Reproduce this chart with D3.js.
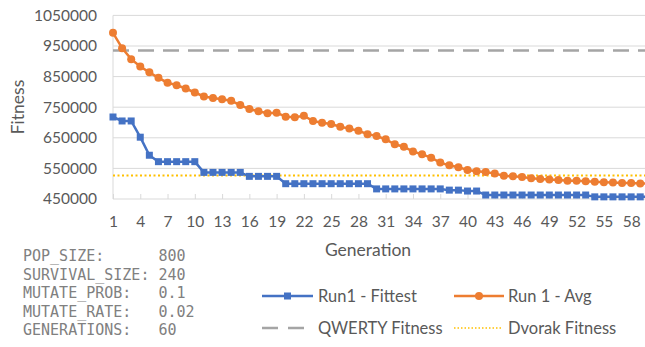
<!DOCTYPE html>
<html><head><meta charset="utf-8">
<script src="https://cdn.jsdelivr.net/npm/d3@7"></script>
<style>
body{margin:0;background:#fff;overflow:hidden}
text{font-family:Lato,"Open Sans",sans-serif}
</style></head>
<body><svg id="c" width="645" height="347"></svg>
<script>
const generations = d3.range(1, 61);
const fittest = [718000,705000,705000,652000,593000,572000,572000,572000,572000,572000,
 537000,537000,537000,537000,537000,524000,524000,524000,524000,500000,
 500000,500000,500000,500000,500000,500000,500000,500000,500000,483000,
 483000,483000,483000,483000,483000,483000,483000,479000,479000,476000,
 476000,463000,463000,463000,463000,463000,463000,463000,463000,463000,
 463000,463000,463000,457000,457000,457000,457000,457000,457000,457000];
const average = [993000,943000,907000,883000,864000,846000,830000,822000,811000,798000,
 785000,780000,776000,771000,757000,744000,737000,730000,732000,719000,
 717000,722000,705000,699000,695000,686000,680000,673000,662000,656000,
 645000,629000,621000,605000,596000,585000,569000,560000,554000,545000,
 541000,538000,533000,526000,524000,522000,518000,515000,514000,512000,
 510000,510000,508000,506000,505000,504000,502000,502000,501000,500000];
const qwertyFitness = 935000;
const dvorakFitness = 527000;
const yTicks = [450000,550000,650000,750000,850000,950000,1050000];
const xTickLabels = generations.filter((g,i)=>i%3===0);
const params = [["POP_SIZE:","800"],["SURVIVAL_SIZE:","240"],["MUTATE_PROB:","0.1"],["MUTATE_RATE:","0.02"],["GENERATIONS:","60"]];
const legendItems = ["Run1 - Fittest","Run 1 - Avg","QWERTY Fitness","Dvorak Fitness"];

const svg = d3.select("#c");
const x = d3.scalePoint().domain(generations).range([113, 113 + 59*9.09]);
const y = d3.scaleLinear().domain([450000,1050000]).range([199,15.4]);
const blue="#4472C4", orange="#ED7D31", gray="#A5A5A5", gold="#FFC000", txt="#595959";

svg.append("g").selectAll("line").data(yTicks.slice(1)).join("line")
 .attr("x1",113).attr("x2",650).attr("y1",d=>y(d)).attr("y2",d=>y(d))
 .attr("stroke","#D9D9D9").attr("stroke-width",1);
svg.append("line").attr("x1",113).attr("x2",113).attr("y1",y(1050000)).attr("y2",y(450000)).attr("stroke","#D9D9D9");
const xAxis = d3.axisBottom(x).tickValues(xTickLabels).tickSizeInner(-5).tickSizeOuter(0).tickPadding(17);
const gx = svg.append("g").attr("transform",`translate(0,${y(450000)})`).call(xAxis);
gx.select(".domain").attr("stroke","#D9D9D9").attr("d",`M113,0H650`);
gx.selectAll(".tick line").attr("stroke","#D9D9D9");
gx.selectAll("text").attr("fill",txt).style("font-size","15.5px").style("font-family","Lato,sans-serif");
const yAxis = d3.axisLeft(y).tickValues(yTicks).tickSize(0).tickPadding(16).tickFormat(d3.format("d"));
const gy = svg.append("g").attr("transform","translate(113,0)").call(yAxis);
gy.select(".domain").remove();
gy.selectAll("text").attr("fill",txt).style("font-size","15.5px").style("font-family","Lato,sans-serif");

svg.append("line").attr("x1",113).attr("x2",650).attr("y1",y(qwertyFitness)).attr("y2",y(qwertyFitness))
 .attr("stroke",gray).attr("stroke-width",2.5).attr("stroke-dasharray","16,9");
svg.append("line").attr("x1",113).attr("x2",650).attr("y1",y(dvorakFitness)).attr("y2",y(dvorakFitness))
 .attr("stroke",gold).attr("stroke-width",2).attr("stroke-dasharray","2,2.5");

const line = d3.line().x((d,i)=>x(generations[i])).y(d=>y(d));
svg.append("path").datum(average).attr("d",line).attr("fill","none").attr("stroke",orange).attr("stroke-width",2.5);
svg.append("g").selectAll("circle").data(average).join("circle")
 .attr("cx",(d,i)=>x(generations[i])).attr("cy",d=>y(d)).attr("r",4).attr("fill",orange);
svg.append("path").datum(fittest).attr("d",line).attr("fill","none").attr("stroke",blue).attr("stroke-width",2.5);
svg.append("g").selectAll("rect").data(fittest).join("rect")
 .attr("x",(d,i)=>x(generations[i])-3.5).attr("y",d=>y(d)-3.5).attr("width",7).attr("height",7).attr("fill",blue);

svg.append("text").attr("transform","translate(24,107) rotate(-90)").attr("text-anchor","middle")
 .attr("fill",txt).style("font-size","17.5px").text("Fitness");
svg.append("text").attr("x",368).attr("y",256).attr("text-anchor","middle")
 .attr("fill",txt).style("font-size","17.5px").text("Generation");

const pg = svg.append("g").attr("fill","#808080").style("font-size","15px");
params.forEach((p,i)=>{
  pg.append("text").attr("x",23).attr("y",261+i*18.5).attr("xml:space","preserve").style("white-space","pre")
   .style("font-family","'DejaVu Sans Mono','Liberation Mono',monospace")
   .text(p[0].padEnd(15," ") + p[1]);
});

const lg = svg.append("g").style("font-size","16.5px");
const cols=[262,454], rows=[296,328];
function entry(i){ return {x:cols[i%2], y:rows[Math.floor(i/2)]}; }
let e=entry(0);
lg.append("line").attr("x1",e.x).attr("x2",e.x+51).attr("y1",e.y).attr("y2",e.y).attr("stroke",blue).attr("stroke-width",2.5);
lg.append("rect").attr("x",e.x+22).attr("y",e.y-3.5).attr("width",7).attr("height",7).attr("fill",blue);
e=entry(1);
lg.append("line").attr("x1",e.x).attr("x2",e.x+50).attr("y1",e.y).attr("y2",e.y).attr("stroke",orange).attr("stroke-width",2.5);
lg.append("circle").attr("cx",e.x+25).attr("cy",e.y).attr("r",4).attr("fill",orange);
e=entry(2);
lg.append("line").attr("x1",e.x).attr("x2",e.x+43).attr("y1",e.y).attr("y2",e.y).attr("stroke",gray).attr("stroke-width",2.5).attr("stroke-dasharray","16,10");
e=entry(3);
lg.append("line").attr("x1",e.x).attr("x2",e.x+49).attr("y1",e.y).attr("y2",e.y).attr("stroke",gold).attr("stroke-width",1.5).attr("stroke-dasharray","1.5,2");
legendItems.forEach((s,i)=>{
  const p=entry(i);
  lg.append("text").attr("x",p.x+(i%2?54:56)).attr("y",p.y+6).attr("fill",txt).text(s);
});
</script></body></html>
